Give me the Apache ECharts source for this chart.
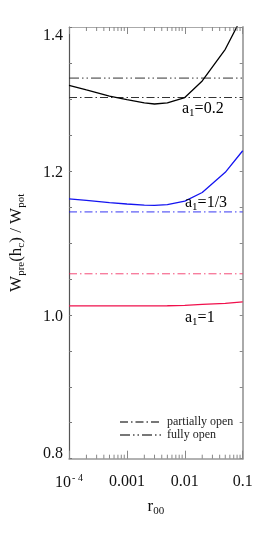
<!DOCTYPE html>
<html>
<head>
<meta charset="utf-8">
<script src="https://cdn.jsdelivr.net/npm/echarts@6/dist/echarts.min.js"></script>
<style>html,body{margin:0;padding:0;background:#fff;}#c{width:270px;height:540px;}</style>
</head>
<body>
<div id="c"></div>
<script>
// ---- data ----
const rValues = [1e-4, 2e-4, 5e-4, 1e-3, 2e-3, 3e-3, 5e-3, 1e-2, 2e-2, 5e-2, 1e-1];
const curveA02 = [1.319, 1.3125, 1.304, 1.299, 1.2945, 1.293, 1.2945, 1.302, 1.325, 1.369, 1.416];
const curveA13 = [1.161, 1.159, 1.156, 1.154, 1.1525, 1.152, 1.153, 1.158, 1.170, 1.198, 1.228];
const curveA1  = [1.0125, 1.0125, 1.0125, 1.0125, 1.0125, 1.0125, 1.0126, 1.013, 1.0145, 1.016, 1.018];
const partialOpen = [1.302, 1.143, 1.057];   // a1 = 0.2, 1/3, 1
const fullyOpen = [1.329];                   // a1 = 0.2
const xRange = [1e-4, 0.1];
const yTicks = [0.8, 1.0, 1.2, 1.4];
const xTickLabels = {'0.0001': '10{sup|- 4}', '0.001': '0.001', '0.01': '0.01', '0.1': '0.1'};
const minorTicksX = [2e-4,3e-4,4e-4,5e-4,6e-4,7e-4,8e-4,9e-4,2e-3,3e-3,4e-3,5e-3,6e-3,7e-3,8e-3,9e-3,2e-2,3e-2,4e-2,5e-2,6e-2,7e-2,8e-2,9e-2];
const curveLabels = ['0.2', '1/3', '1'];

const FONT = 'Liberation Serif';
const BLACK = '#000000', BLUE = '#1414f0', PINK = '#f0104c';
const colors = [BLACK, BLUE, PINK];
const DASH_DOT = [8, 3, 1.5, 3];
const DASH_DOT_DOT = [10, 3, 1.5, 3, 1.5, 3];

const chart = echarts.init(document.getElementById('c'), null, {renderer: 'canvas'});

function curve(name, ys, color) {
  return {
    name: name, type: 'line', data: rValues.map((x, i) => [x, ys[i]]),
    showSymbol: false, symbol: 'none', smooth: false, clip: true,
    lineStyle: {color: color, width: 1.3}, z: 5, silent: true
  };
}
function hline(name, v, color, dash, opacity) {
  return {
    name: name, type: 'line', data: [[xRange[0], v], [xRange[1], v]],
    showSymbol: false, symbol: 'none',
    lineStyle: {color: color, width: 1, type: dash, opacity: opacity}, z: 4, silent: true
  };
}

const series = [
  curve('a02', curveA02, BLACK),
  curve('a13', curveA13, BLUE),
  curve('a1', curveA1, PINK),
  hline('p0', partialOpen[0], '#333333', DASH_DOT, 1),
  hline('p1', partialOpen[1], BLUE, DASH_DOT, 0.85),
  hline('p2', partialOpen[2], PINK, DASH_DOT, 0.75),
  hline('f0', fullyOpen[0], '#333333', DASH_DOT_DOT, 1),
  {name: 'partially open', type: 'line', data: [], symbol: 'none', color: '#777',
   lineStyle: {color: '#777', width: 1, type: DASH_DOT}},
  {name: 'fully open', type: 'line', data: [], symbol: 'none', color: '#777',
   lineStyle: {color: '#777', width: 1, type: DASH_DOT_DOT}},
  {
    type: 'custom', silent: true, clip: false, z: 6,
    data: minorTicksX.map(x => [x, yTicks[0]]),
    renderItem: function (params, api) {
      const x = api.value(0);
      const pb = api.coord([x, yTicks[0]]);
      const pt = api.coord([x, yTicks[yTicks.length - 1]]);
      const st = {stroke: '#888', lineWidth: 1};
      return {type: 'group', children: [
        {type: 'line', shape: {x1: pb[0], y1: pb[1], x2: pb[0], y2: pb[1] - 4}, style: st},
        {type: 'line', shape: {x1: pt[0], y1: pt[1], x2: pt[0], y2: pt[1] + 4}, style: st}
      ]};
    }
  }
];

function yLabel(v) {
  const s = v.toFixed(1);
  if (Math.abs(v - 1.4) < 1e-6) return '{t|' + s + '}';
  if (Math.abs(v - 0.8) < 1e-6) return '{b|' + s + '}';
  return '{m|' + s + '}';
}
const yRich = {
  t: {fontFamily: FONT, fontSize: 16, color: '#111', padding: [18, 0, 0, 0]},
  b: {fontFamily: FONT, fontSize: 16, color: '#111', padding: [0, 0, 10, 0]},
  m: {fontFamily: FONT, fontSize: 16, color: '#111', padding: [4, 0, 0, 0]}
};

function sub(t) { return '{s|' + t + '}'; }
const labRich = (color) => ({
  a: {fontFamily: FONT, fontSize: 16, color: color},
  s: {fontFamily: FONT, fontSize: 11, color: color, padding: [9, 0, 0, 0]}
});
const labelPos = [[182, 112], [185, 206], [185, 321]];

const option = {
  animation: false,
  backgroundColor: '#ffffff',
  grid: {left: 67.7, right: 27.3, top: 27, bottom: 81.3},
  legend: {
    data: ['partially open', 'fully open'], orient: 'vertical',
    left: 114, top: 411, itemWidth: 42, itemHeight: 10, itemGap: 1,
    itemStyle: {opacity: 0},
    textStyle: {fontFamily: FONT, fontSize: 12, color: '#222'}, selectedMode: false
  },
  xAxis: [
    {
      type: 'log', min: xRange[0], max: xRange[1], logBase: 10, position: 'bottom',
      axisLine: {show: true, lineStyle: {color: '#999', width: 1.5}},
      axisTick: {show: true, inside: true, length: 8, lineStyle: {color: '#888'}},
      splitLine: {show: false}, minorTick: {show: false},
      axisLabel: {
        margin: 15, fontFamily: FONT, fontSize: 16, color: '#111',
        formatter: function (v) { const k = String(Number(v.toPrecision(3))); return xTickLabels[k] !== undefined ? xTickLabels[k] : ''; },
        rich: {sup: {fontFamily: FONT, fontSize: 10, color: '#111', padding: [0, 0, 9, 1]}}
      },
      name: '{m|r}{s|00}', nameLocation: 'middle', nameGap: 38,
      nameTextStyle: {fontFamily: FONT, fontSize: 16, color: '#111',
        rich: {m: {fontFamily: FONT, fontSize: 17, color: '#111'}, s: {fontFamily: FONT, fontSize: 11, color: '#111', padding: [9, 0, 0, 0]}}}
    },
    {
      type: 'log', min: xRange[0], max: xRange[1], logBase: 10, position: 'top',
      axisLine: {show: true, lineStyle: {color: '#aaa', width: 1}},
      axisTick: {show: true, inside: true, length: 7, lineStyle: {color: '#888'}},
      axisLabel: {show: false}, splitLine: {show: false}
    }
  ],
  yAxis: [
    {
      type: 'value', min: 0.8, max: 1.4, interval: 0.2, position: 'left',
      axisLine: {show: true, lineStyle: {color: '#555', width: 1.2}},
      axisTick: {show: true, inside: true, length: 3, lineStyle: {color: '#777'}},
      minorTick: {show: true, splitNumber: 4, length: 3, lineStyle: {color: '#777'}},
      splitLine: {show: false},
      axisLabel: {margin: 6, formatter: yLabel, rich: yRich, fontFamily: FONT, fontSize: 16},
      name: '{m|W}{s|pre}{m|(h}{s|c}{m|) / W}{s|pot}', nameLocation: 'middle', nameGap: 42, nameRotate: 90,
      nameTextStyle: {fontFamily: FONT, fontSize: 17, color: '#111',
        rich: {m: {fontFamily: FONT, fontSize: 17, color: '#111'}, s: {fontFamily: FONT, fontSize: 11, color: '#111', padding: [10, 0, 0, 0]}}}
    },
    {
      type: 'value', min: 0.8, max: 1.4, interval: 0.2, position: 'right',
      axisLine: {show: true, lineStyle: {color: '#aaa', width: 2}},
      axisTick: {show: true, inside: true, length: 3, lineStyle: {color: '#888'}},
      minorTick: {show: true, splitNumber: 4, length: 3, lineStyle: {color: '#888'}},
      splitLine: {show: false}, axisLabel: {show: false}
    }
  ],
  graphic: curveLabels.map((t, i) => ({
    type: 'text', left: labelPos[i][0], top: labelPos[i][1] - 11, z: 10,
    style: {text: '{a|a}' + sub('1') + '{a|=' + t + '}', rich: labRich(colors[i]), fontFamily: FONT}
  })),
  series: series
};
chart.setOption(option);
</script>
</body>
</html>
